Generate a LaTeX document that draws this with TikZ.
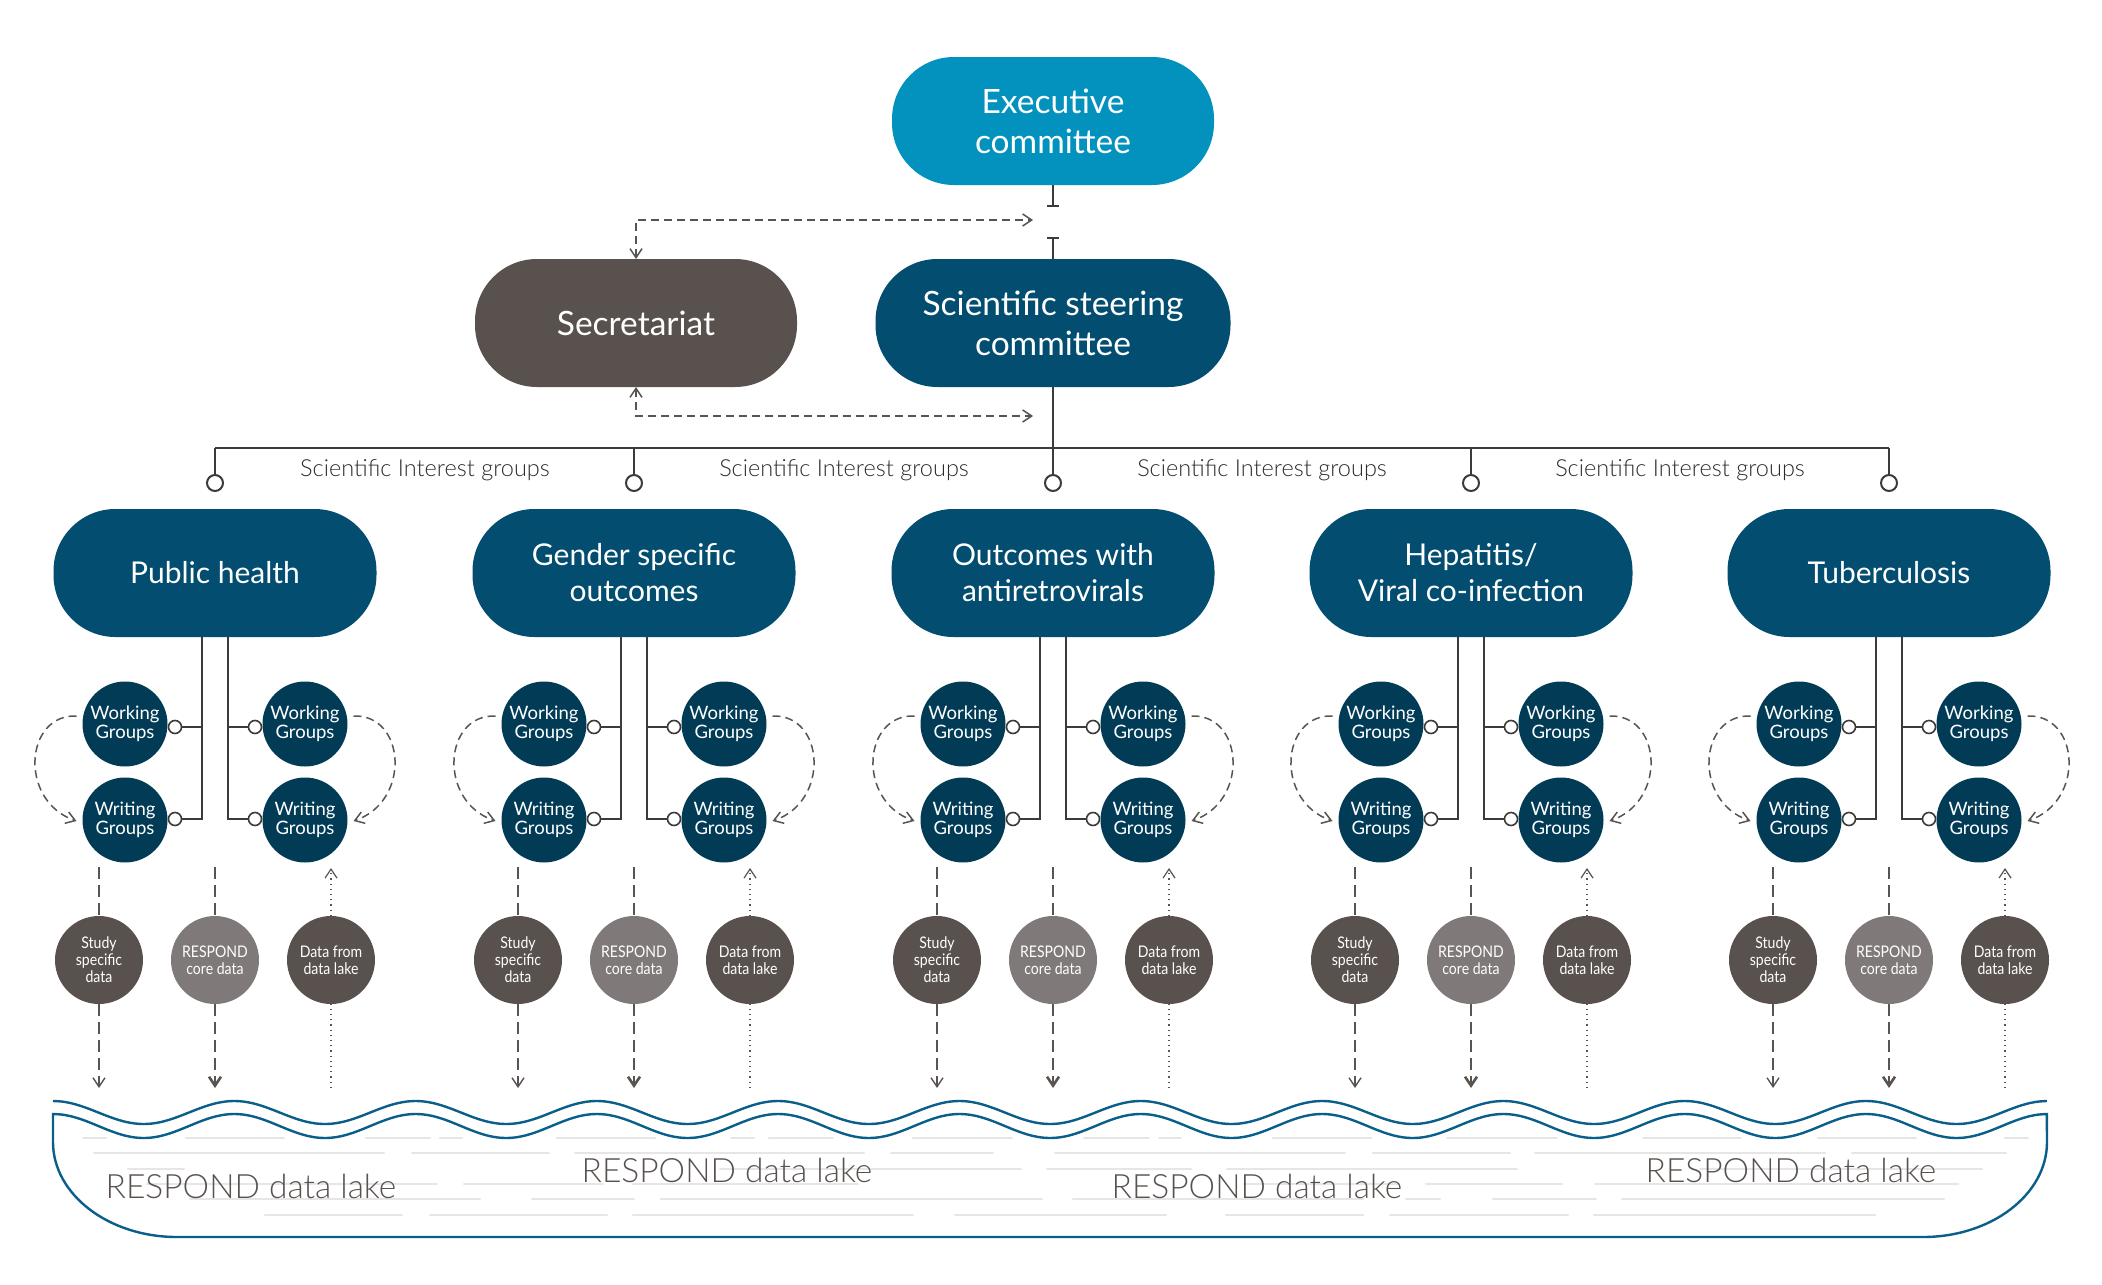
\documentclass[tikz,border=0pt]{standalone}
\usepackage{fontspec}
\setmainfont{Lato}
\newfontfamily\narrowfont{Lato}[FakeStretch=0.88]
\newfontfamily\lightfont{Lato Light}
\usetikzlibrary{arrows.meta,calc}

\definecolor{execblue}{RGB}{3,146,190}
\definecolor{navy}{RGB}{2,77,112}
\definecolor{deepnavy}{RGB}{1,59,86}
\definecolor{taupe}{RGB}{88,81,78}
\definecolor{midgray}{RGB}{127,122,121}
\definecolor{linegray}{RGB}{61,58,57}
\definecolor{labelgray}{RGB}{45,43,42}
\definecolor{arrowgray}{RGB}{90,84,81}
\definecolor{lakeblue}{RGB}{10,94,138}
\definecolor{ripple}{RGB}{230,230,230}

\begin{document}
\begin{tikzpicture}[x=1pt, y=-1pt, inner sep=0pt, outer sep=0pt,
  every node/.style={align=center},
  pill/.style={rectangle, rounded corners=62pt, minimum height=128pt, text=white,
    font=\fontsize{33.5}{40}\selectfont},
  sigbox/.style={pill, fill=navy, minimum width=323pt, font=\fontsize{30}{36}\selectfont},
  wgnode/.style={circle, fill=deepnavy, minimum size=85pt, text=white,
    font=\fontsize{18.5}{19.5}\selectfont},
  datanode/.style={circle, minimum size=88pt, text=white,
    font=\narrowfont\fontsize{16}{17}\selectfont},
  knob/.style={circle, draw=linegray, line width=1.6pt, fill=white, minimum size=13pt},
  hub/.style={circle, draw=linegray, line width=2pt, fill=white, minimum size=16pt},
  wire/.style={draw=linegray, line width=2pt},
  tip/.style={-{Straight Barb[length=9pt,width=12pt]}},
  flowdash/.style={draw=arrowgray, line width=1.5pt, dash pattern=on 8pt off 5pt},
  loopdash/.style={flowdash, tip},
  datadash/.style={draw=arrowgray, line width=1.4pt, dash pattern=on 12pt off 6pt},
  coredash/.style={datadash, line width=2.6pt},
  dotflow/.style={draw=arrowgray, line width=1.2pt, dash pattern=on 1.2pt off 4pt},
  ripplestroke/.style={draw=ripple, line width=2.2pt, line cap=round},
  lakeline/.style={draw=lakeblue, line width=2.4pt},
  siglabel/.style={text=labelgray, font=\lightfont\fontsize{23.5}{27}\selectfont},
  laketext/.style={text=taupe, font=\lightfont\fontsize{33.5}{40}\selectfont}]

  \useasboundingbox (0,0) rectangle (2102,1285);

  % committees
  \node[pill, fill=execblue, minimum width=322pt] (exec_comm) at (1053,121) {Executive\\committee};
  \node[pill, fill=taupe, minimum width=322pt] (secretariat) at (636,323) {Secretariat};
  \node[pill, fill=navy, minimum width=355pt] (steer_comm) at (1053,323) {Scientific steering\\committee};

  \coordinate (exec_tee) at (1053,207);
  \coordinate (steer_tee) at (1053,237);
  \draw[wire, line width=1.6pt, -{Bar[width=12pt]}] (exec_comm.south) -- (exec_tee);
  \draw[wire, line width=1.6pt, -{Bar[width=12pt]}] (steer_comm.north) -- (steer_tee);

  \coordinate (sec_in) at (1033,220);
  \coordinate (sec_out) at (1033,416);
  \draw[flowdash, {Straight Barb[length=9pt,width=12pt]}-{Straight Barb[length=9pt,width=12pt]}]
    (secretariat.north) |- (sec_in);
  \draw[flowdash, {Straight Barb[length=9pt,width=12pt]}-{Straight Barb[length=9pt,width=12pt]}]
    (secretariat.south) |- (sec_out);

  % interest group bar
  \coordinate (bar_w) at (215,448);
  \coordinate (bar_e) at (1889,448);
  \draw[wire] (steer_comm.south) -- (steer_comm.south |- bar_w);
  \draw[wire] (bar_w) -- (bar_e);

  \foreach \j/\lx in {1/425, 2/844, 3/1262, 4/1680}
    \node[siglabel, anchor=base] (sig_label_\j) at (\lx,476) {Scientific Interest groups};

  % ripples of the lake
  \foreach \ry/\ra/\rb in {1138/83/106, 1138/186/284, 1138/366/430, 1138/440/462, 1138/557/655,
      1138/731/754, 1138/769/833, 1138/913/1012, 1138/1084/1149, 1138/1159/1181, 1138/1273/1371,
      1138/1447/1557, 1138/1643/1741, 1138/1818/1916, 1138/2005/2028,
      1153/94/384, 1153/412/549, 1153/575/864, 1153/891/993, 1153/1055/1345, 1153/1373/1510,
      1153/1535/1825, 1153/1852/2006,
      1169/128/184, 1169/720/1021, 1169/1047/1191, 1169/1227/1517, 1169/1700/1982,
      1184/147/437, 1184/464/603, 1184/633/858, 1184/1244/1399, 1184/1426/1562, 1184/1595/1958,
      1199/190/480, 1199/532/634, 1199/661/1042, 1199/1073/1363, 1199/1406/1440, 1199/1493/1596,
      1199/1622/1944,
      1215/265/402, 1215/430/607, 1215/633/913, 1215/955/1166, 1215/1226/1363, 1215/1390/1568,
      1215/1594/1875}
    \draw[ripplestroke] (\ra,\ry) -- (\rb,\ry);

  % lake outline
  \draw[lakeline] plot[domain=0:11, samples=221, smooth] ({53+181.3*\x},{1112.5-11.5*cos(360*\x)});
  \draw[lakeline] plot[domain=0:11, samples=221, smooth] ({53+181.3*\x},{1126-12*cos(360*\x)})
    -- (2047,1142) .. controls (2047,1194.5) and (1991.4,1237) .. (1923,1237)
    -- (177,1237) .. controls (108.6,1237) and (53,1194.5) .. (53,1142) -- cycle;

  \node[laketext, anchor=base] (lake_txt_1) at (251,1198) {RESPOND data lake};
  \node[laketext, anchor=base] (lake_txt_2) at (727,1182) {RESPOND data lake};
  \node[laketext, anchor=base] (lake_txt_3) at (1257,1198) {RESPOND data lake};
  \node[laketext, anchor=base] (lake_txt_4) at (1791,1182) {RESPOND data lake};

  % interest groups
  \foreach \i/\cx/\txt in {1/215/{Public health}, 2/634/{Gender specific\\outcomes},
      3/1053/{Outcomes with\\antiretrovirals}, 4/1471/{Hepatitis/\\Viral co-infection},
      5/1889/{Tuberculosis}}{
    \node[sigbox] (sig_\i) at (\cx,573) {\txt};
    \node[hub] (hub_\i) at (\cx,483) {};
    \draw[wire] (hub_\i.north) -- (hub_\i.north |- bar_w);

    \node[wgnode] (work_l_\i) at (\cx-90,724) {Working\\Groups};
    \node[wgnode] (write_l_\i) at (\cx-90,820) {Writing\\Groups};
    \node[wgnode] (work_r_\i) at (\cx+90,724) {Working\\Groups};
    \node[wgnode] (write_r_\i) at (\cx+90,820) {Writing\\Groups};
    \node[knob] (knob_wl_\i) at (\cx-40,727) {};
    \node[knob] (knob_tl_\i) at (\cx-40,819) {};
    \node[knob] (knob_wr_\i) at (\cx+40,727) {};
    \node[knob] (knob_tr_\i) at (\cx+40,819) {};

    \coordinate (stem_l_\i) at ($(sig_\i.south)+(-13,0)$);
    \coordinate (stem_r_\i) at ($(sig_\i.south)+(13,0)$);
    \draw[wire] (stem_l_\i) |- (knob_tl_\i.east);
    \draw[wire] (knob_wl_\i.east) -- (knob_wl_\i.east -| stem_l_\i);
    \draw[wire] (stem_r_\i) |- (knob_tr_\i.west);
    \draw[wire] (knob_wr_\i.west) -- (knob_wr_\i.west -| stem_r_\i);

    \draw[loopdash] ($(work_l_\i.west)+(-6,-8)$) .. controls +(-52,-2) and +(-58,-20) .. ($(write_l_\i.west)+(-6,1)$);
    \draw[loopdash] ($(work_r_\i.east)+(6,-8)$) .. controls +(52,-2) and +(58,-20) .. ($(write_r_\i.east)+(6,1)$);

    % data circles
    \node[datanode, fill=taupe] (study_\i) at (\cx-116,960) {Study\\specific\\data};
    \node[datanode, fill=midgray] (core_\i) at (\cx,960) {RESPOND\\core data};
    \node[datanode, fill=taupe] (pull_\i) at (\cx+116,960) {Data from\\data lake};

    \coordinate (study_src_\i) at (\cx-116,867);
    \coordinate (core_src_\i) at (\cx,867);
    \coordinate (pull_dst_\i) at (\cx+116,868);
    \coordinate (study_dst_\i) at (\cx-116,1088);
    \coordinate (core_dst_\i) at (\cx,1088);
    \coordinate (pull_src_\i) at (\cx+116,1088);

    \draw[datadash] (study_src_\i) -- (study_\i.north);
    \draw[datadash, tip] (study_\i.south) -- (study_dst_\i);
    \draw[coredash] (core_src_\i) -- (core_\i.north);
    \draw[coredash, tip] (core_\i.south) -- (core_dst_\i);
    \draw[dotflow] (pull_src_\i) -- (pull_\i.south);
    \draw[dotflow, tip] (pull_\i.north) -- (pull_dst_\i);
  }

\end{tikzpicture}
\end{document}
